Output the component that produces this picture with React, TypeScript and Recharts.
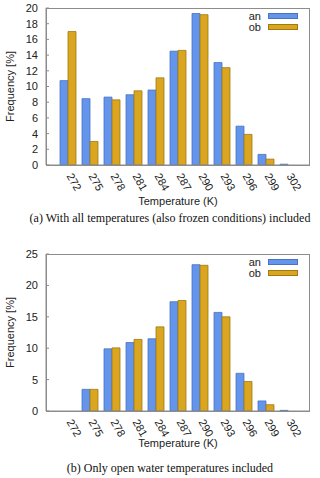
import { BarChart, Bar, XAxis, YAxis, Legend } from 'recharts'

const temps = ['272', '275', '278', '281', '284', '287', '290', '293', '296', '299', '302']

// (a) all temperatures
const anAll = [10.75, 8.45, 8.65, 8.95, 9.55, 14.5, 19.3, 13.05, 4.95, 1.35, 0.1]
const obAll = [17.0, 3.0, 8.3, 9.45, 11.1, 14.6, 19.15, 12.4, 3.9, 0.75, 0]

// (b) open water only
const anOpen = [0, 3.45, 9.9, 10.9, 11.5, 17.4, 23.3, 15.7, 6.0, 1.6, 0.1]
const obOpen = [0, 3.45, 10.05, 11.4, 13.4, 17.6, 23.2, 15.0, 4.7, 1.0, 0]

const ticksA = [0, 2, 4, 6, 8, 10, 12, 14, 16, 18, 20]
const ticksB = [0, 5, 10, 15, 20, 25]

const BLUE = '#6495ED'
const GOLD = '#DAA520'
const BORDER = '#8c8c8c'
const FONT = '"Liberation Sans", Arial, sans-serif'

const W = 320
const Y_W = 46
const R_W = 10
const PLOT_H = 157

const RotTick = ({ x, y, payload }: any) => (
  <g transform={`translate(${x + 5},${y})`}>
    <text transform="rotate(60)" textAnchor="start" dy="0.71em" fontSize={11} fontFamily={FONT} fill="#222">
      {payload.value}
    </text>
  </g>
)

const LegendBox = ({ payload }: any) => (
  <div style={{ fontFamily: FONT, fontSize: 11, color: '#222' }}>
    {(payload || []).map((p: any) => (
      <div key={p.value} style={{ display: 'flex', alignItems: 'center', height: 11, justifyContent: 'flex-end' }}>
        <span style={{ lineHeight: '11px' }}>{p.value}</span>
        <span style={{ display: 'inline-block', width: 30, height: 6, marginLeft: 7, background: p.color, border: `1px solid ${p.value === 'an' ? '#4a72c0' : '#a07a10'}`, boxSizing: 'border-box' }} />
      </div>
    ))}
  </div>
)

function FreqChart({ an, ob, max, ticks, top, axisH, titleOffset }: any) {
  const data = temps.map((t, i) => ({ t, an: an[i], ob: ob[i] }))
  const height = top + PLOT_H + axisH
  return (
    <div style={{ position: 'relative', width: W, height }}>
      <BarChart width={W} height={height} data={data} margin={{ top, right: R_W, left: 0, bottom: 0 }} barCategoryGap={3} barGap={0}>
        <XAxis
          dataKey="t"
          padding={{ left: 11, right: 11 }}
          height={axisH}
          interval={0}
          tickLine={false}
          tickSize={0}
          tickMargin={7}
          axisLine={{ stroke: BORDER }}
          tick={<RotTick />}
          label={{ value: 'Temperature (K)', position: 'insideBottom', offset: titleOffset, fontSize: 11, fontFamily: FONT, fill: '#222' }}
        />
        <YAxis
          width={Y_W}
          domain={[0, max]}
          ticks={ticks}
          interval={0}
          tickSize={-3}
          tickMargin={11}
          tickLine={{ stroke: BORDER }}
          axisLine={{ stroke: BORDER }}
          tick={{ fontSize: 11, fontFamily: FONT, fill: '#222' }}
          label={{ value: 'Frequency [%]', angle: -90, position: 'insideLeft', offset: 10, fontSize: 11, fontFamily: FONT, fill: '#222', style: { textAnchor: 'middle' } }}
        />
        <Legend
          verticalAlign="middle"
          align="center"
          layout="vertical"
          content={<LegendBox />}
          wrapperStyle={{ top: top + 2.5, right: 22, left: 'auto', bottom: 'auto', width: 'auto', height: 'auto' }}
        />
        <Bar dataKey="an" name="an" fill={BLUE} stroke="#4a72c0" strokeWidth={0.8} isAnimationActive={false} />
        <Bar dataKey="ob" name="ob" fill={GOLD} stroke="#a07a10" strokeWidth={0.8} isAnimationActive={false} />
      </BarChart>
      {/* gnuplot-style frame round the plot area */}
      <div
        style={{
          position: 'absolute',
          left: Y_W,
          top,
          width: W - Y_W - R_W,
          height: PLOT_H + 1,
          border: `1px solid ${BORDER}`,
          boxSizing: 'border-box',
          pointerEvents: 'none',
        }}
      />
    </div>
  )
}

const captionStyle: any = {
  position: 'absolute',
  left: 0,
  width: 340,
  textAlign: 'center',
  fontFamily: '"Liberation Serif", "Times New Roman", serif',
  fontSize: 12,
  color: '#111',
  lineHeight: '14px',
}

export default function App() {
  return (
    <div style={{ position: 'relative', width: 320, height: 478, background: '#fff', overflow: 'hidden' }}>
      <style>{'body{margin:0}'}</style>
      <div style={{ position: 'absolute', left: 0, top: 0 }}>
        <FreqChart an={anAll} ob={obAll} max={20} ticks={ticksA} top={8} axisH={45} titleOffset={5} />
      </div>
      <div style={{ ...captionStyle, top: 211 }}>(a) With all temperatures (also frozen conditions) included</div>
      <div style={{ position: 'absolute', left: 0, top: 236 }}>
        <FreqChart an={anOpen} ob={obOpen} max={25} ticks={ticksB} top={18} axisH={40} titleOffset={4.5} />
      </div>
      <div style={{ ...captionStyle, top: 461 }}>(b) Only open water temperatures included</div>
    </div>
  )
}
